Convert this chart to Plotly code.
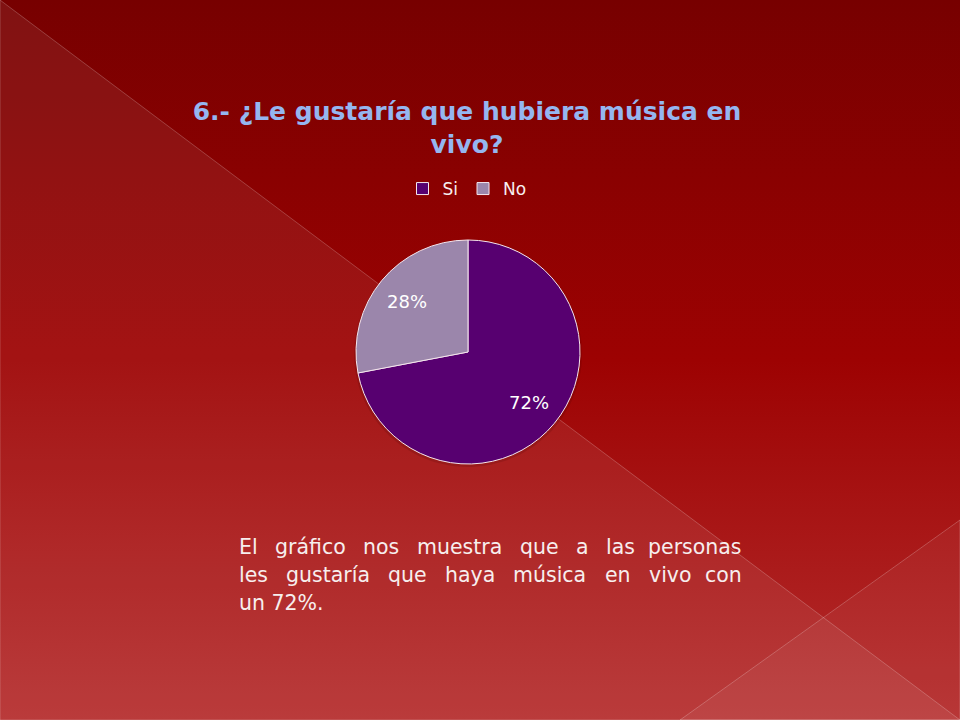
import numpy as np
import plotly.graph_objects as go

W, H = 960, 720

labels = ["Si", "No"]
values = [72, 28]
slice_colors = ["#570070", "#9b86ab"]

title_text = "6.- ¿Le gustaría que hubiera música en<br>vivo?"
note_lines = [
    "El gráfico nos muestra que a las personas",
    "les gustaría que haya música en vivo con",
    "un 72%.",
]

FONT = "DejaVu Sans"
TITLE_COLOR = "#95b6f0"
TEXT_COLOR = "#f7eeee"

# pie placement on the slide (px)
PIE_CX, PIE_CY, PIE_R = 468, 352, 112

# rough DejaVu Sans advance widths (units of 1/2048 em), used to justify the note
_ADV = {
    " ": 651, ".": 651, "%": 1946, "E": 1294, "l": 569, "i": 569, "í": 569,
    "a": 1255, "á": 1255, "b": 1300, "c": 1126, "d": 1300, "e": 1260,
    "f": 721, "g": 1300, "h": 1298, "m": 1995, "n": 1298, "o": 1253,
    "p": 1300, "q": 1300, "r": 842, "s": 1067, "t": 803, "u": 1298,
    "ú": 1298, "v": 1212, "y": 1212,
}


def _text_width(s: str, size: float) -> float:
    return sum(_ADV.get(ch, 1303) for ch in s) / 2048 * size


fig = go.Figure()

# slide background: vertical red gradient
fig.add_trace(
    go.Scatter(
        x=[0, W, W, 0, 0],
        y=[0, 0, H, H, 0],
        mode="lines",
        fill="toself",
        line=dict(width=0),
        fillgradient=dict(
            type="vertical",
            colorscale=[[0, "#b52d2d"], [0.5, "#9d0202"], [1, "#770000"]],
        ),
        hoverinfo="skip",
        showlegend=False,
    )
)

# lighter diagonal panels
fig.add_trace(
    go.Scatter(
        x=[0, W, 0, 0],
        y=[0, H, H, 0],
        mode="lines",
        fill="toself",
        fillcolor="rgba(255,255,255,0.07)",
        line=dict(width=1, color="rgba(255,255,255,0.22)"),
        hoverinfo="skip",
        showlegend=False,
    )
)
fig.add_trace(
    go.Scatter(
        x=[680, W, W, 680],
        y=[H, 520, H, H],
        mode="lines",
        fill="toself",
        fillcolor="rgba(255,255,255,0.05)",
        line=dict(width=1, color="rgba(255,255,255,0.22)"),
        hoverinfo="skip",
        showlegend=False,
    )
)

# faint shadow behind the pie
t = np.linspace(0, 2 * np.pi, 120)
fig.add_trace(
    go.Scatter(
        x=PIE_CX + (PIE_R + 2) * np.cos(t),
        y=PIE_CY + 2 + (PIE_R + 1) * np.sin(t),
        mode="lines",
        fill="toself",
        fillcolor="rgba(50,0,0,0.14)",
        line=dict(width=0),
        hoverinfo="skip",
        showlegend=False,
    )
)

fig.add_trace(
    go.Pie(
        labels=labels,
        values=values,
        sort=False,
        direction="clockwise",
        rotation=0,
        marker=dict(colors=slice_colors, line=dict(color="#f4e6ee", width=1)),
        textinfo="none",
        domain=dict(
            x=[(PIE_CX - PIE_R) / W, (PIE_CX + PIE_R) / W],
            y=[1 - (PIE_CY + PIE_R) / H, 1 - (PIE_CY - PIE_R) / H],
        ),
        hoverinfo="label+percent",
    )
)

# percentage labels, placed at each slice's mid-angle
total = sum(values)
start = 0.0
for v in values:
    frac = v / total
    mid = 2 * np.pi * (start + frac / 2)
    fig.add_annotation(
        text=f"{frac:.0%}",
        x=PIE_CX + 0.71 * PIE_R * np.sin(mid),
        y=PIE_CY - 0.71 * PIE_R * np.cos(mid),
        xref="x",
        yref="y",
        showarrow=False,
        font=dict(family=FONT, size=18, color="#ffffff"),
    )
    start += frac

# justified note under the chart
NOTE_X0, NOTE_X1 = 237, 744
NOTE_Y = [547, 575, 603]
NOTE_SIZE = 20.5
for i, line in enumerate(note_lines):
    words = line.split(" ")
    last = i == len(note_lines) - 1
    if last or len(words) == 1:
        fig.add_annotation(
            text=line, x=NOTE_X0, y=NOTE_Y[i], xref="x", yref="y",
            xanchor="left", yanchor="middle", showarrow=False,
            font=dict(family=FONT, size=NOTE_SIZE, color=TEXT_COLOR),
        )
        continue
    widths = [_text_width(w_, NOTE_SIZE) for w_ in words]
    gap = (NOTE_X1 - NOTE_X0 - sum(widths)) / (len(words) - 1)
    x = NOTE_X0
    for j, (word, wd) in enumerate(zip(words, widths)):
        is_end = j == len(words) - 1
        fig.add_annotation(
            text=word,
            x=NOTE_X1 if is_end else x,
            y=NOTE_Y[i],
            xref="x",
            yref="y",
            xanchor="right" if is_end else "left",
            yanchor="middle",
            showarrow=False,
            font=dict(family=FONT, size=NOTE_SIZE, color=TEXT_COLOR),
        )
        x += wd + gap

fig.update_layout(
    width=W,
    height=H,
    margin=dict(l=0, r=0, t=0, b=0),
    paper_bgcolor="#8a0000",
    plot_bgcolor="rgba(0,0,0,0)",
    xaxis=dict(range=[0, W], visible=False, domain=[0, 1], fixedrange=True),
    yaxis=dict(range=[H, 0], visible=False, domain=[0, 1], fixedrange=True),
    title=dict(
        text="<b>" + title_text + "</b>",
        x=467 / W,
        xanchor="center",
        y=1 - 120 / H,
        yanchor="top",
        font=dict(family=FONT, size=25, color=TITLE_COLOR),
    ),
    legend=dict(
        orientation="h",
        x=467 / W,
        xanchor="center",
        y=1 - 189 / H,
        yanchor="middle",
        font=dict(family=FONT, size=17, color=TEXT_COLOR),
        bgcolor="rgba(0,0,0,0)",
        itemwidth=30,
    ),
    showlegend=True,
)

fig.write_html(
    "out.html",
    config={"displayModeBar": False},
    post_script="document.body.style.margin='0';document.body.style.padding='0';",
)
